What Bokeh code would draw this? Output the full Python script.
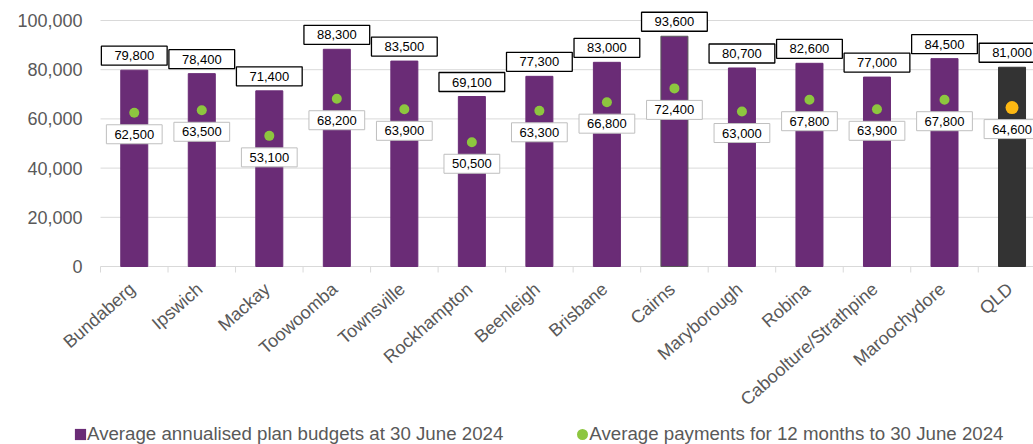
from bokeh.plotting import figure
from bokeh.models import (ColumnDataSource, Label, Legend, LegendItem, Range1d)
from bokeh.embed import file_html
from bokeh.resources import INLINE

regions = ["Bundaberg", "Ipswich", "Mackay", "Toowoomba", "Townsville", "Rockhampton",
           "Beenleigh", "Brisbane", "Cairns", "Maryborough", "Robina",
           "Caboolture/Strathpine", "Maroochydore", "QLD"]
budgets = [79800, 78400, 71400, 88300, 83500, 69100, 77300, 83000, 93600, 80700,
           82600, 77000, 84500, 81000]
payments = [62500, 63500, 53100, 68200, 63900, 50500, 63300, 66800, 72400, 63000,
            67800, 63900, 67800, 64600]
y_ticks = [0, 20000, 40000, 60000, 80000, 100000]
y_tick_labels = ["0", "20,000", "40,000", "60,000", "80,000", "100,000"]
legend_labels = ["Average annualised plan budgets at 30 June 2024",
                 "Average payments for 12 months to 30 June 2024"]

PURPLE = "#6A2C76"
GREEN = "#8DC63F"
DARK = "#333333"
ORANGE = "#FDB813"
GREY_TXT = "#595959"
GRID = "#d9d9d9"
FONT = "Liberation Sans"

n = len(regions)
xs = list(range(n))
is_total = [r == "QLD" for r in regions]
src = ColumnDataSource(dict(
    x=xs,
    budget=budgets,
    payment=payments,
    region=regions,
    bar_color=[DARK if t else PURPLE for t in is_total],
    bar_line=["#595959" if r == "Cairns" else (DARK if t else PURPLE) for r, t in zip(regions, is_total)],
    dot_color=[ORANGE if t else GREEN for t in is_total],
    dot_size=[13 if t else 10 for t in is_total],
))

# layout in pixels: the frame covers the whole canvas
W, H = 1033, 444
plot_left_px = 100      # where the category axis starts
px_per_cat = 67.52
zero_px = 266           # pixel row of value 0
px_per_100k = 246.0
x_start = -0.5 - plot_left_px / px_per_cat
x_end = x_start + W / px_per_cat
y_end = zero_px / px_per_100k * 100000
y_start = -(H - zero_px) / px_per_100k * 100000
px = 100000 / px_per_100k   # data units per screen pixel (vertical)

p = figure(width=W, height=H, output_backend="svg", toolbar_location=None,
           x_range=Range1d(x_start, x_end), y_range=Range1d(y_start, y_end),
           min_border_left=0, min_border_right=0, min_border_top=0,
           min_border_bottom=0)
p.axis.visible = False
p.grid.visible = False
p.outline_line_color = None
p.background_fill_color = "white"
p.border_fill_color = "white"

# gridlines and value labels
p.segment(x0=[-0.5] * len(y_ticks), x1=[x_end] * len(y_ticks), y0=y_ticks, y1=y_ticks,
          line_color=GRID, line_width=1)
p.text(x=[-0.5] * len(y_ticks), y=y_ticks, text=y_tick_labels, text_align="right",
       text_baseline="middle", x_offset=-18, text_font={"value": FONT},
       text_font_size={"value": "18px"}, text_color=GREY_TXT)

# category boundary ticks
bounds = [i - 0.5 for i in range(n + 1)]
p.segment(x0=bounds, x1=bounds, y0=[0] * len(bounds), y1=[-6 * px] * len(bounds),
          line_color=GRID, line_width=1)

# category labels
p.text(x="x", y=0, text="region", source=src, angle=0.72, text_align="right",
       text_baseline="middle", x_offset=-2, y_offset=20,
       text_font={"value": FONT}, text_font_size={"value": "18px"}, text_color=GREY_TXT)

p.vbar(x="x", top="budget", width=0.4, source=src, fill_color="bar_color",
       line_color="bar_line", line_width=1)
p.scatter(x="x", y="payment", size="dot_size", source=src, fill_color="dot_color",
          line_color=None, marker="circle")

for i in xs:
    p.add_layout(Label(x=i, y=budgets[i], text=f"{budgets[i]:,}",
                       text_align="center", text_baseline="bottom", y_offset=5,
                       text_font=FONT, text_font_size="13px",
                       text_color="black", background_fill_color="white",
                       border_line_color="black", border_line_width=1.3,
                       padding=(13, 5)))
    p.add_layout(Label(x=i, y=payments[i], text=f"{payments[i]:,}",
                       text_align="center", text_baseline="top", y_offset=-12,
                       text_font=FONT, text_font_size="13px",
                       text_color="black", background_fill_color="white",
                       border_line_color="#bfbfbf", border_line_width=1,
                       padding=(8, 5)))

# legend with dummy renderers (kept off-view)
r_sq = p.vbar(x=[0], top=[-1e7], bottom=[-2e7], width=0.4, fill_color=PURPLE,
              line_color=None)
r_ci = p.scatter(x=[0], y=[-1e7], marker="circle", size=5.6, fill_color=GREEN,
                 line_color=GREEN, line_width=5.4)
legend = Legend(items=[LegendItem(label=legend_labels[0], renderers=[r_sq]),
                       LegendItem(label=legend_labels[1], renderers=[r_ci])],
                orientation="horizontal", location=(73, -1),
                glyph_width=14, glyph_height=14, label_height=20,
                label_standoff=0, spacing=72,
                padding=0, margin=0, border_line_color=None,
                background_fill_alpha=0,
                label_text_font=FONT, label_text_font_size="18.7px",
                label_text_color=GREY_TXT)
p.add_layout(legend, "center")

open("out.html", "w").write(file_html(p, INLINE))
